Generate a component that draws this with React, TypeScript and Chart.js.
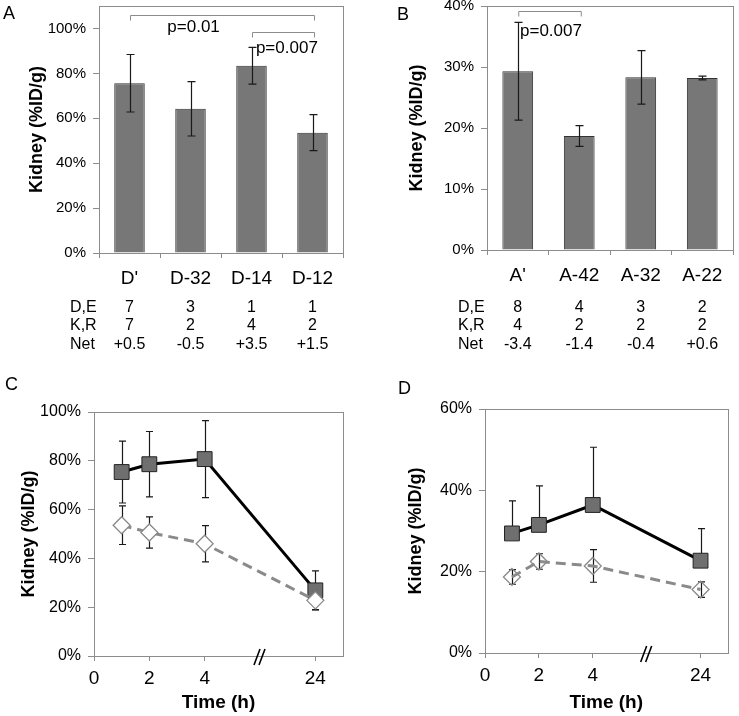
import React, { useEffect, useRef } from 'react';
import { Chart, registerables } from 'chart.js';

Chart.register(...registerables);

const FONT = "'Liberation Sans', Arial, Helvetica, sans-serif";
Chart.defaults.font.family = FONT;
Chart.defaults.color = '#000';

// ---------- Panel A data ----------
const catsA = ["D'", 'D-32', 'D-14', 'D-12'];
const kidneyA = [75.6, 64.2, 83.4, 53.6];
const errA = [12.8, 12.1, 8.2, 8.0];
const deA = ['7', '3', '1', '1'];
const krA = ['7', '2', '4', '2'];
const netA = ['+0.5', '-0.5', '+3.5', '+1.5'];

// ---------- Panel B data ----------
const catsB = ["A'", 'A-42', 'A-32', 'A-22'];
const kidneyB = [29.3, 18.7, 28.3, 28.2];
const errB = [8.0, 1.7, 4.4, 0.3];
const deB = ['8', '4', '3', '2'];
const krB = ['4', '2', '2', '2'];
const netB = ['-3.4', '-1.4', '-0.4', '+0.6'];

const rowLabels = ['D,E', 'K,R', 'Net'];

// ---------- Panel C data ----------
const timesH = [1, 2, 4, 24];
const xTickHours = [0, 2, 4, 24];
const solidC = [75.4, 78.6, 80.7, 26.9];
const solidErrC = [12.7, 13.4, 15.8, 8.0];
const dashC = [53.6, 50.6, 46.0, 22.8];
const dashErrC = [7.9, 6.4, 7.4, 3.8];

// ---------- Panel D data ----------
const solidD = [29.4, 31.5, 36.4, 22.7];
const solidErrD = [8.0, 9.6, 14.2, 7.9];
const dashD = [18.7, 22.5, 21.4, 15.6];
const dashErrD = [1.8, 1.9, 4.0, 1.9];

// broken time axis: hours after the break are shifted left
const BREAK_POS = 6;
const BREAK_GAP = 16;
const axisPos = (h: number) => (h > BREAK_POS ? h - BREAK_GAP : h);

const GRAY = '#8c8c8c';

function zeroPad(s: any) {
  s.paddingTop = 0;
  s.paddingBottom = 0;
  s.paddingLeft = 0;
  s.paddingRight = 0;
}

function yValue(d: any) {
  return typeof d === 'number' ? d : d.y;
}

function drawErrors(chart: any, o: any) {
  const { ctx } = chart;
  const y = chart.scales.y;
  (o.errors || []).forEach((e: any) => {
    const meta = chart.getDatasetMeta(e.dataset);
    const data = chart.data.datasets[e.dataset].data;
    ctx.save();
    ctx.strokeStyle = e.color || '#1a1a1a';
    ctx.lineWidth = 1.2;
    meta.data.forEach((el: any, i: number) => {
      const v = yValue(data[i]);
      const px = Math.round(el.x) + 0.5;
      const yc = y.getPixelForValue(v);
      const yt = y.getPixelForValue(v + e.err[i]);
      const yb = e.lower === false ? yc : y.getPixelForValue(v - e.err[i]);
      ctx.beginPath();
      ctx.moveTo(px, yt);
      ctx.lineTo(px, yb);
      ctx.moveTo(px - e.cap, yt);
      ctx.lineTo(px + e.cap, yt);
      if (e.lower !== false) {
        ctx.moveTo(px - e.cap, yb);
        ctx.lineTo(px + e.cap, yb);
      }
      ctx.stroke();
    });
    ctx.restore();
  });
}

const extras = {
  id: 'extras',
  beforeDatasetsDraw(chart: any, _a: any, o: any) {
    const { ctx, chartArea: a } = chart;
    ctx.save();
    ctx.strokeStyle = GRAY;
    ctx.lineWidth = 1;
    ctx.strokeRect(Math.round(a.left) + 0.5, Math.round(a.top) + 0.5, Math.round(a.right - a.left), Math.round(a.bottom - a.top));
    ctx.restore();
    if (o.errorsBehind) drawErrors(chart, o);
  },
  afterDatasetsDraw(chart: any, _a: any, o: any) {
    const { ctx, chartArea: a } = chart;
    const x = chart.scales.x;
    const y = chart.scales.y;
    if (!o.errorsBehind) drawErrors(chart, o);

    // significance brackets
    (o.brackets || []).forEach((b: any) => {
      const x1 = x.getPixelForValue(b.from) + 1;
      const x2 = x.getPixelForValue(b.to) + 2;
      const yy = Math.round(y.getPixelForValue(b.y)) + 0.5;
      ctx.save();
      ctx.strokeStyle = GRAY;
      ctx.lineWidth = 1;
      ctx.beginPath();
      ctx.moveTo(x1, yy + 5);
      ctx.lineTo(x1, yy);
      ctx.lineTo(x2, yy);
      ctx.lineTo(x2, yy + 5);
      ctx.stroke();
      ctx.fillStyle = '#000';
      ctx.font = `17px ${FONT}`;
      ctx.textAlign = 'center';
      ctx.textBaseline = 'middle';
      ctx.fillText(b.text, x.getPixelForValue(b.textX), y.getPixelForValue(b.textY));
      ctx.restore();
    });

    // table under the axis
    if (o.table) {
      ctx.save();
      ctx.fillStyle = '#000';
      ctx.font = `16px ${FONT}`;
      ctx.textBaseline = 'middle';
      o.table.rows.forEach((row: string[], r: number) => {
        const yy = o.table.ys[r];
        ctx.textAlign = 'left';
        ctx.fillText(o.table.labels[r], a.left - 29, yy);
        ctx.textAlign = 'center';
        row.forEach((t, i) => ctx.fillText(t, x.getPixelForValue(i), yy));
      });
      ctx.restore();
    }

    // axis break mark
    if (o.breakAt !== undefined) {
      const bx = x.getPixelForValue(o.breakAt);
      const by = a.bottom + 1;
      ctx.save();
      ctx.strokeStyle = '#000';
      ctx.lineWidth = 1.6;
      ctx.beginPath();
      ctx.moveTo(bx - 6, by + 8);
      ctx.lineTo(bx, by - 8);
      ctx.moveTo(bx - 1, by + 8);
      ctx.lineTo(bx + 5, by - 8);
      ctx.stroke();
      ctx.restore();
    }
  },
  afterDraw(chart: any, _a: any, o: any) {
    const { ctx } = chart;
    ctx.save();
    ctx.fillStyle = '#000';
    ctx.font = `18px ${FONT}`;
    ctx.textAlign = 'left';
    ctx.textBaseline = 'middle';
    ctx.fillText(o.letter, o.letterX, o.letterY);
    ctx.restore();
  },
};

function barConfig(p: any) {
  return {
    type: 'bar',
    data: {
      labels: p.cats,
      datasets: [
        {
          data: p.values,
          backgroundColor: '#777777',
          borderColor: '#333333',
          borderWidth: 1,
          barPercentage: 0.5,
          categoryPercentage: 1,
        },
      ],
    },
    options: {
      animation: false,
      responsive: false,
      devicePixelRatio: 1,
      events: [],
      layout: { padding: p.padding },
      plugins: {
        legend: { display: false },
        tooltip: { enabled: false },
        extras: {
          letter: p.letter,
          letterX: p.letterX,
          letterY: p.letterY,
          errors: [{ dataset: 0, err: p.errors, cap: 4 }],
          brackets: p.brackets,
          table: { labels: rowLabels, rows: p.rows, ys: [307.5, 326, 344.5] },
        },
      },
      scales: {
        x: {
          grid: { offset: true, drawOnChartArea: false, tickLength: 5, color: GRAY },
          border: { color: GRAY },
          ticks: { font: { size: 19 }, color: '#000', padding: 9, maxRotation: 0, autoSkip: false },
          afterFit: (s: any) => {
            s.height = p.xHeight;
            zeroPad(s);
          },
        },
        y: {
          min: 0,
          max: p.yMax,
          grid: { drawOnChartArea: false, tickLength: 6, color: GRAY },
          border: { color: GRAY },
          ticks: {
            stepSize: p.step,
            callback: (v: any) => v + '%',
            font: { size: 15 },
            color: '#000',
            padding: 7,
          },
          afterBuildTicks: (s: any) => {
            s.ticks = s.ticks.filter((t: any) => t.value <= p.tickMax);
          },
          afterFit: (s: any) => {
            s.width = p.yWidth;
            zeroPad(s);
          },
          title: {
            display: true,
            text: 'Kidney (%ID/g)',
            font: { size: 18, weight: 'bold' },
            color: '#000',
            padding: { top: p.yTitlePad, bottom: 0 },
          },
        },
      },
    },
    plugins: [extras],
  };
}

function lineConfig(p: any) {
  const pts = (vals: number[]) => timesH.map((t, i) => ({ x: axisPos(t), y: vals[i] }));
  return {
    type: 'line',
    data: {
      datasets: [
        {
          data: pts(p.solid),
          order: 1,
          borderColor: '#000',
          borderWidth: 3,
          pointStyle: 'rect',
          pointRadius: 10.5,
          pointBackgroundColor: '#6f6f6f',
          pointBorderColor: '#222',
          pointBorderWidth: 1,
          tension: 0,
        },
        {
          data: pts(p.dash),
          order: 0,
          borderColor: '#8a8a8a',
          borderWidth: 3,
          borderDash: [10, 6],
          pointStyle: 'rectRot',
          pointRadius: 8.5,
          pointBackgroundColor: p.diamondFill,
          pointBorderColor: '#8a8a8a',
          pointBorderWidth: 1.3,
          tension: 0,
        },
      ],
    },
    options: {
      animation: false,
      responsive: false,
      devicePixelRatio: 1,
      events: [],
      layout: { padding: p.padding },
      plugins: {
        legend: { display: false },
        tooltip: { enabled: false },
        extras: {
          letter: p.letter,
          letterX: p.letterX,
          letterY: p.letterY,
          errorsBehind: true,
          breakAt: BREAK_POS,
          errors: [
            { dataset: 0, err: p.solidErr, cap: 3.5, lower: p.solidLower },
            { dataset: 1, err: p.dashErr, cap: 3.5 },
          ],
        },
      },
      scales: {
        x: {
          type: 'linear',
          min: 0,
          max: 9,
          grid: { drawOnChartArea: false, tickLength: 5, color: GRAY },
          border: { color: GRAY },
          ticks: {
            font: { size: 19 },
            color: '#000',
            padding: 6,
            maxRotation: 0,
            callback: (v: any) => {
              const h = xTickHours.find((hh) => axisPos(hh) === v);
              return h === undefined ? '' : String(h);
            },
          },
          afterBuildTicks: (s: any) => {
            s.ticks = xTickHours.map((h) => ({ value: axisPos(h) }));
          },
          afterFit: (s: any) => {
            s.height = p.xHeight;
            zeroPad(s);
          },
          title: {
            display: true,
            text: 'Time (h)',
            font: { size: 19, weight: 'bold' },
            color: '#000',
            padding: { top: 0, bottom: 2 },
          },
        },
        y: {
          min: 0,
          max: p.yMax,
          grid: { drawOnChartArea: false, tickLength: 6, color: GRAY },
          border: { color: GRAY },
          ticks: {
            stepSize: 20,
            callback: (v: any) => v + '%',
            font: { size: 16 },
            color: '#000',
            padding: 7,
          },
          afterFit: (s: any) => {
            s.width = p.yWidth;
            zeroPad(s);
          },
          title: {
            display: true,
            text: 'Kidney (%ID/g)',
            font: { size: 18, weight: 'bold' },
            color: '#000',
            padding: { top: p.yTitlePad, bottom: 0 },
          },
        },
      },
    },
    plugins: [extras],
  };
}

const configA = () =>
  barConfig({
    cats: catsA,
    values: kidneyA,
    errors: errA,
    rows: [deA, krA, netA],
    yMax: 110,
    tickMax: 100,
    step: 20,
    padding: { left: 0, top: 6, right: 27, bottom: 0 },
    yWidth: 99,
    xHeight: 117,
    yTitlePad: 26,
    letter: 'A',
    letterX: 3,
    letterY: 14,
    brackets: [
      { from: 0, to: 3, y: 106.1, text: 'p=0.01', textX: 1.05, textY: 100.3 },
      { from: 2, to: 3, y: 98.2, text: 'p=0.007', textX: 2.58, textY: 91.3 },
    ],
  });

const configB = () =>
  barConfig({
    cats: catsB,
    values: kidneyB,
    errors: errB,
    rows: [deB, krB, netB],
    yMax: 40,
    tickMax: 40,
    step: 10,
    padding: { left: 0, top: 6, right: 6, bottom: 0 },
    yWidth: 117,
    xHeight: 120,
    yTitlePad: 36,
    letter: 'B',
    letterX: 27,
    letterY: 15,
    brackets: [{ from: 0, to: 1, y: 39.2, text: 'p=0.007', textX: 0.54, textY: 35.8 }],
  });

const configC = () =>
  lineConfig({
    solid: solidC,
    solidErr: solidErrC,
    solidLower: true,
    dash: dashC,
    dashErr: dashErrC,
    diamondFill: '#ffffff',
    yMax: 100,
    padding: { left: 0, top: 42, right: 27, bottom: 0 },
    yWidth: 94,
    xHeight: 60,
    yTitlePad: 18,
    letter: 'C',
    letterX: 5,
    letterY: 15,
  });

const configD = () =>
  lineConfig({
    solid: solidD,
    solidErr: solidErrD,
    solidLower: false,
    dash: dashD,
    dashErr: dashErrD,
    diamondFill: 'rgba(255,255,255,0)',
    yMax: 60,
    padding: { left: 0, top: 39, right: 2, bottom: 0 },
    yWidth: 115,
    xHeight: 63,
    yTitlePad: 35,
    letter: 'D',
    letterX: 28,
    letterY: 19,
  });

function Panel({ left, top, width, height, make }: any) {
  const ref = useRef<HTMLCanvasElement | null>(null);
  useEffect(() => {
    const chart = new Chart(ref.current as HTMLCanvasElement, make() as any);
    return () => chart.destroy();
  }, []);
  return (
    <canvas
      ref={ref}
      width={width}
      height={height}
      style={{ position: 'absolute', left, top, width, height, display: 'block' }}
    />
  );
}

export default function App() {
  return (
    <div style={{ position: 'absolute', left: 0, top: 0, width: 739, height: 716, background: '#fff' }}>
      <Panel left={0} top={0} width={370} height={370} make={configA} />
      <Panel left={370} top={0} width={369} height={370} make={configB} />
      <Panel left={0} top={370} width={370} height={346} make={configC} />
      <Panel left={370} top={370} width={369} height={346} make={configD} />
    </div>
  );
}
